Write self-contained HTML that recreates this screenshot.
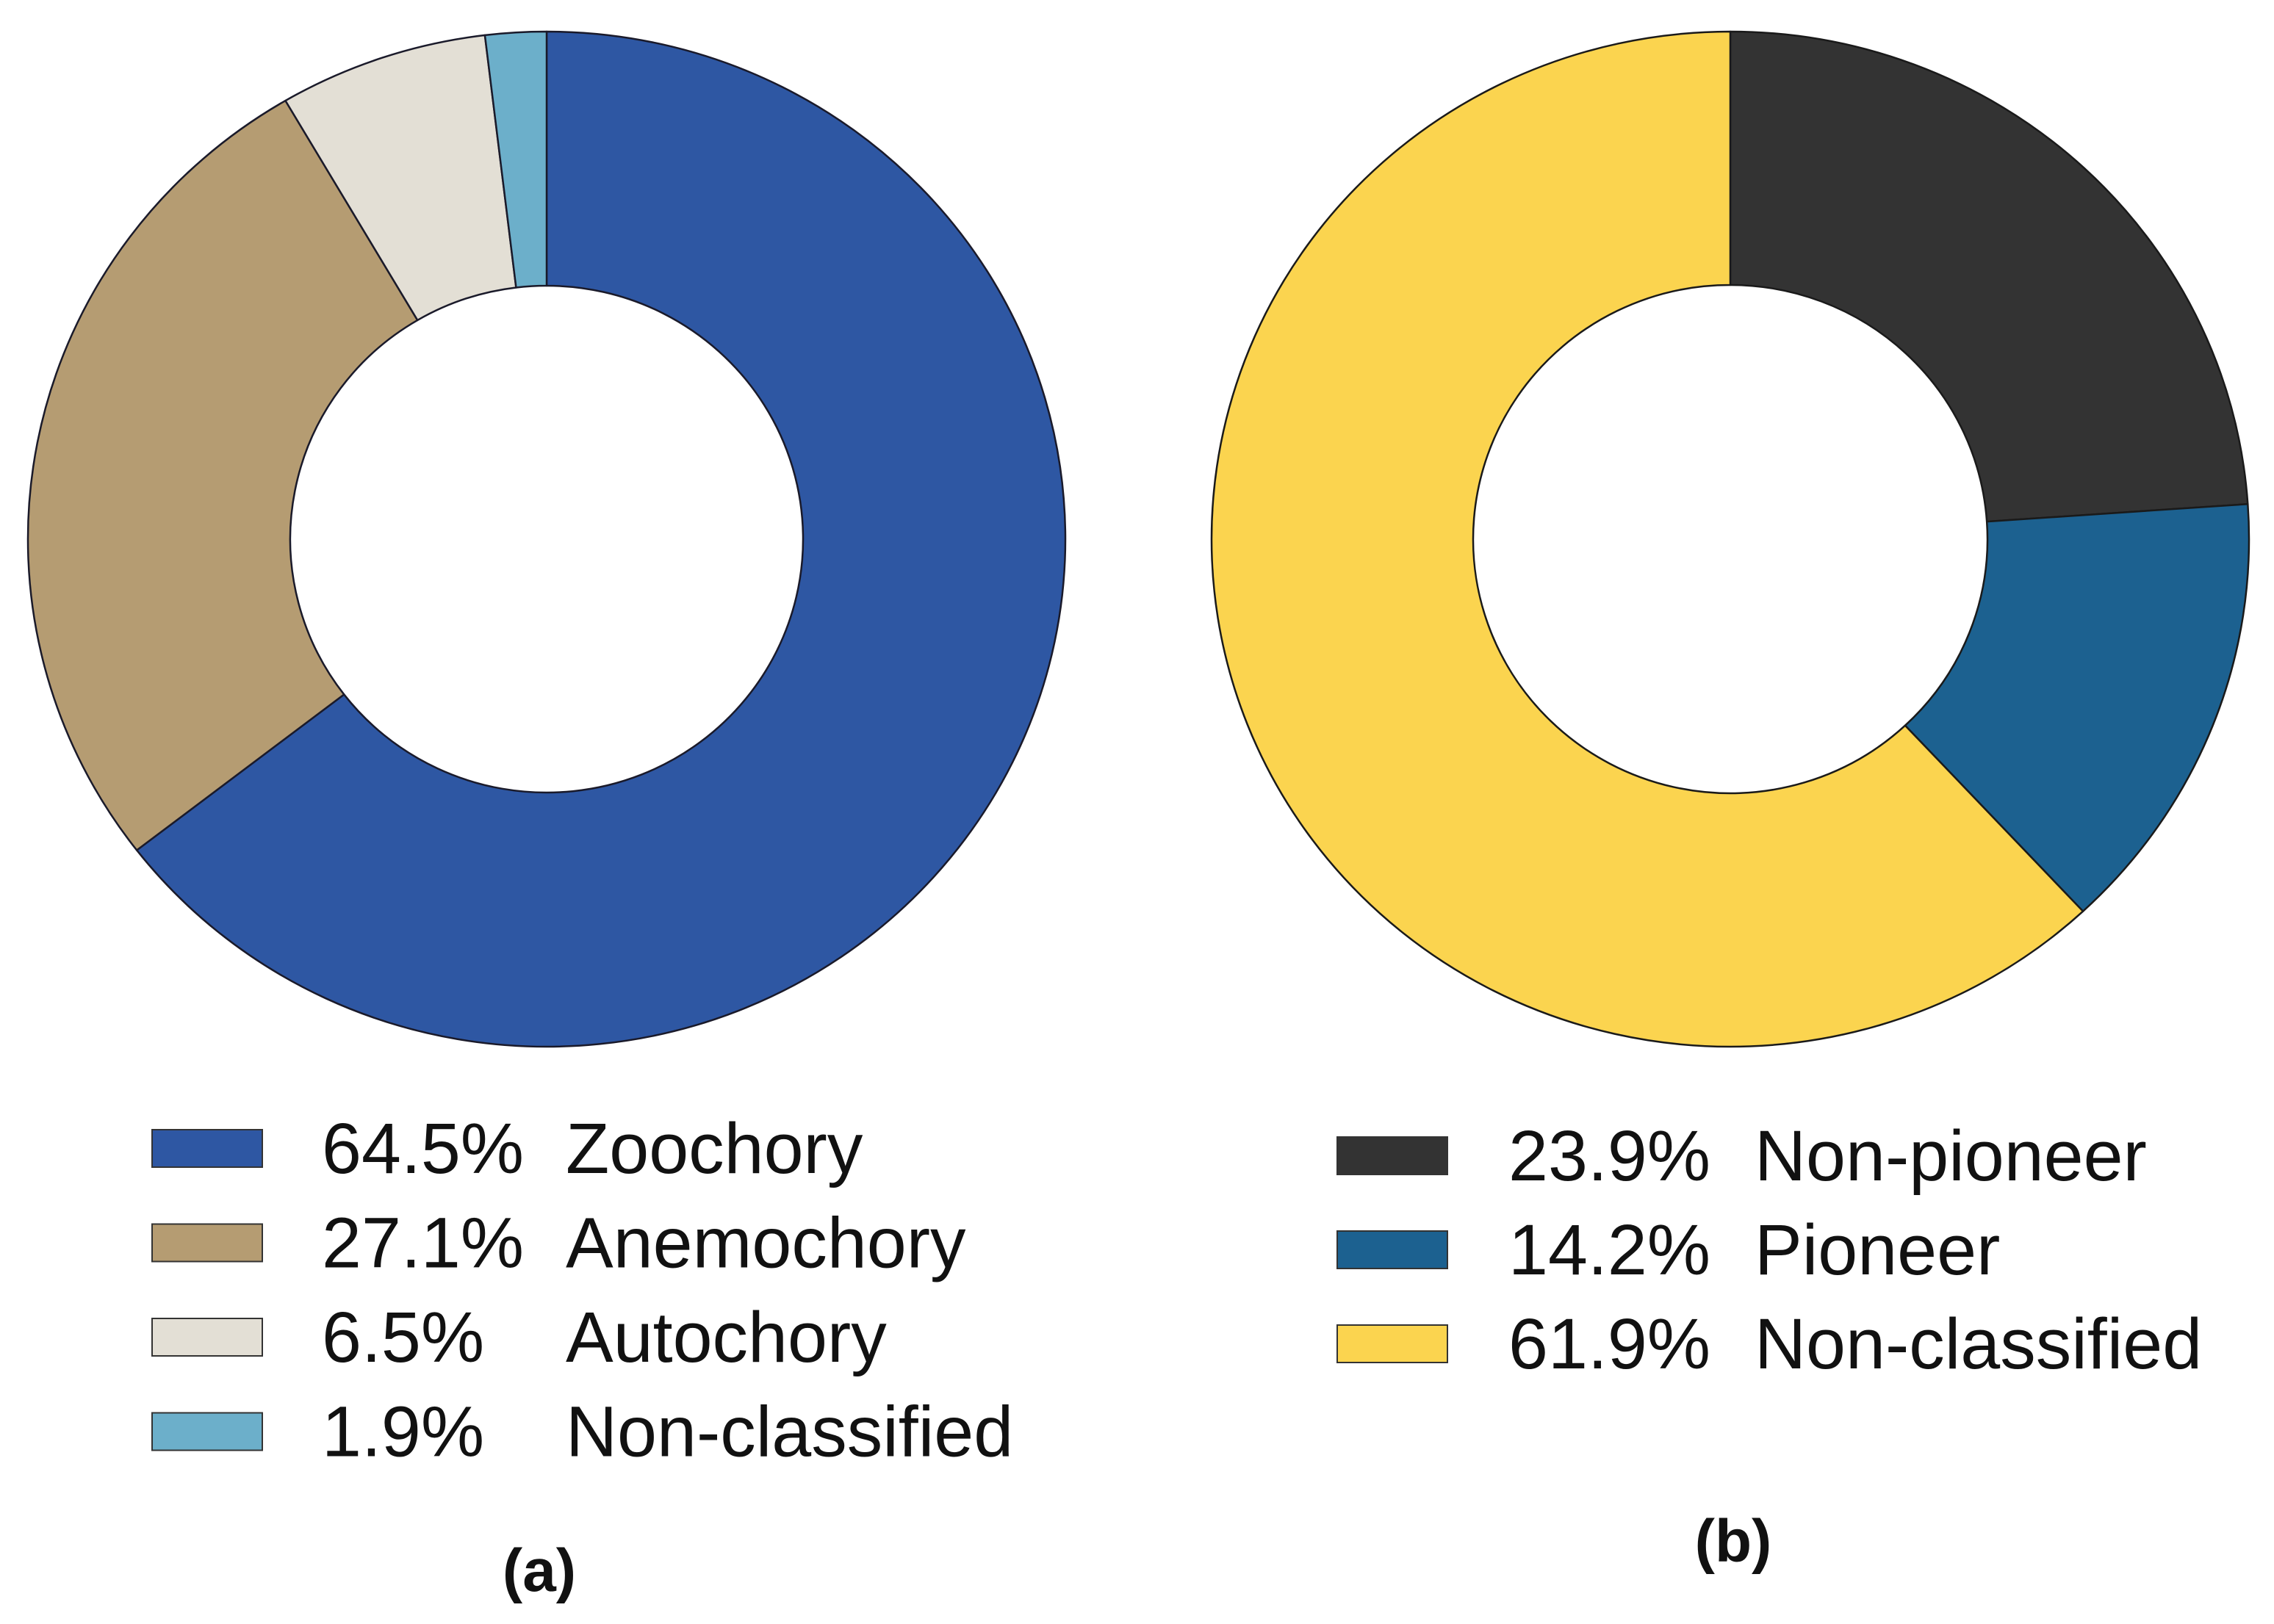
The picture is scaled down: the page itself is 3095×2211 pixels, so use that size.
<!DOCTYPE html>
<html><head><meta charset="utf-8"><style>
html,body{margin:0;padding:0;background:#fff;}
svg{display:block;font-family:"Liberation Sans",Arial,sans-serif;}
</style></head><body>
<svg id="chart" width="3095" height="2211" viewBox="0 0 3095 2211"></svg>
<script>
const catsA = ["Zoochory","Anemochory","Autochory","Non-classified"];
const valsA = [64.5, 27.1, 6.5, 1.9];
const labelsA = ["64.5%","27.1%","6.5%","1.9%"];
const colorsA = ["#2e57a3","#b59c72","#e3dfd5","#6cafca"];
const catsB = ["Non-pioneer","Pioneer","Non-classified"];
const valsB = [23.9, 14.2, 61.9];
const labelsB = ["23.9%","14.2%","61.9%"];
const colorsB = ["#333333","#1c6190","#fbd44f"];

const NS = "http://www.w3.org/2000/svg";
const svg = document.getElementById('chart');
function mk(t, attrs, parent){const e=document.createElementNS(NS,t);for(const k in attrs)e.setAttribute(k,attrs[k]);(parent||svg).appendChild(e);return e;}
function pt(cx,cy,rx,ry,a){return [cx+rx*Math.sin(a), cy-ry*Math.cos(a)];}
function donut(cx,cy,RX,RY,rx,ry,vals,colors,cats,stroke,prefix){
  const g=mk('g',{});
  
  
  const tot=vals.reduce((a,b)=>a+b,0);
  let a0=0;
  vals.forEach((v,i)=>{
    const a1=a0+v/tot*2*Math.PI;
    const large=(a1-a0)>Math.PI?1:0;
    const [x0,y0]=pt(cx,cy,RX,RY,a0),[x1,y1]=pt(cx,cy,RX,RY,a1),[x2,y2]=pt(cx,cy,rx,ry,a1),[x3,y3]=pt(cx,cy,rx,ry,a0);
    const p=mk('path',{d:`M${x0},${y0}A${RX},${RY} 0 ${large} 1 ${x1},${y1}L${x2},${y2}A${rx},${ry} 0 ${large} 0 ${x3},${y3}Z`,fill:colors[i],stroke:stroke,'stroke-width':2.5,'stroke-linejoin':'round'},g);
    
    
    a0=a1;
  });
}
function legend(x,y0,dy,pctX,labX,labels,cats,colors,prefix){
  cats.forEach((c,i)=>{
    const y=y0+i*dy;
    const g=mk('g',{});
    
    
    mk('rect',{x:x,y:y-25,width:150,height:51,fill:colors[i],stroke:'#333','stroke-width':2},g);
    const t1=mk('text',{x:pctX,y:y+34,'font-size':97,fill:'#111'},g);t1.textContent=labels[i];
    const t2=mk('text',{x:labX,y:y+34,'font-size':97,fill:'#111'},g);t2.textContent=c;
  });
}
donut(744,734,706,691,349,345,valsA,colorsA,catsA,'#1a1a2a','a');
donut(2355,734,706,691,350,346,valsB,colorsB,catsB,'#1a1a1a','b');
legend(207,1563,128.5,438,770,labelsA,catsA,colorsA,'a');
legend(1820,1573,128,2053,2388,labelsB,catsB,colorsB,'b');
const ta=mk('text',{x:734,y:2166,'font-size':82,'font-weight':'bold','text-anchor':'middle',fill:'#111'});
ta.textContent='(a)';
const tb=mk('text',{x:2359,y:2126,'font-size':82,'font-weight':'bold','text-anchor':'middle',fill:'#111'});
tb.textContent='(b)';
</script>
</body></html>
